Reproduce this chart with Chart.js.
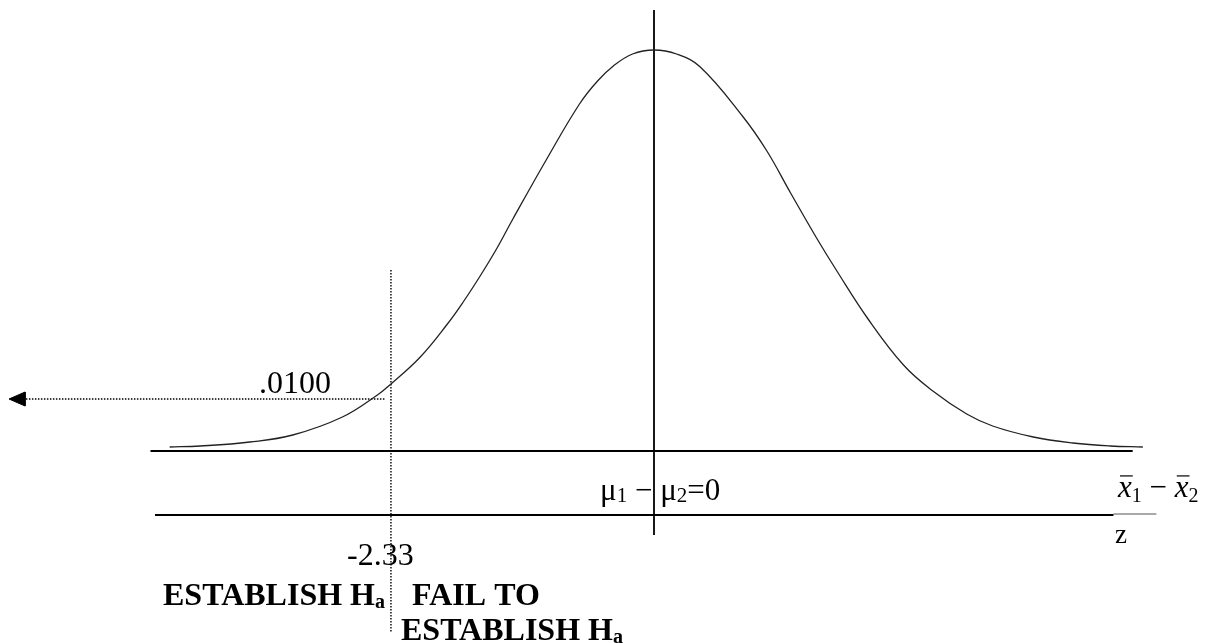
<!DOCTYPE html>
<html lang="en">
<head>
<meta charset="UTF-8">
<title>Lower-tail test for a difference of means</title>
<script src="https://cdn.jsdelivr.net/npm/chart.js@4/dist/chart.umd.min.js"></script>
<style>
    html, body {
        margin: 0;
        padding: 0;
        background: #fff;
    }
    canvas {
        display: block;
    }
</style>
</head>
<body>
<canvas id="testChart" width="1210" height="643"></canvas>

<script>
    // sampling distribution of x̄1 − x̄2, read in z units
    const zPoints = [-4.29, -4.02, -3.58, -3.20, -2.76, -2.45, -2.34, -2.07, -1.83, -1.69,
                     -1.54, -1.39, -1.25, -0.95, -0.66, -0.50, -0.36, -0.19, 0,
                     0.20, 0.41, 0.79, 1.00, 1.21, 1.44, 1.62, 1.89, 2.21, 2.47,
                     2.77, 3.00, 3.36, 3.71, 4.04, 4.33];
    const density = [0.004, 0.005, 0.009, 0.016, 0.034, 0.056, 0.066, 0.094, 0.127, 0.149,
                     0.175, 0.203, 0.232, 0.292, 0.347, 0.370, 0.385, 0.397, 0.401,
                     0.397, 0.384, 0.334, 0.300, 0.258, 0.213, 0.180, 0.133, 0.086, 0.060,
                     0.037, 0.025, 0.014, 0.008, 0.005, 0.004];

    // the two horizontal axes: x̄1 − x̄2 on top, z below
    const meanAxisZ = [-4.46, 4.24];
    const zAxisZ = [-4.42, 4.07];
    const zAxisTailZ = [4.07, 4.45];
    const zAxisLevel = -0.064;

    // centre line at μ1 − μ2 = 0
    const centreZ = 0;
    const centreSpan = [0.441, -0.084];

    // critical value and its tail area
    const criticalZ = -2.33;
    const criticalSpan = [0.181, -0.182];
    const tailArea = '.0100';
    const arrowLevel = 0.052;
    const arrowZ = [-5.59, -2.38];
    const arrowHeadZ = [-5.713, -5.571, -5.571, -5.713];
    const arrowHeadV = [0.052, 0.059, 0.045, 0.052];

    const font = '"Liberation Serif", "Times New Roman", serif';

    const pts = (xs, ys) => xs.map((x, i) => ({ x: x, y: Array.isArray(ys) ? ys[i] : ys }));

    const labels = [
        { z: -3.499, v: 0.058, runs: [{ t: tailArea }] },
        { z: -2.719, v: -0.114, runs: [{ t: String(criticalZ) }] },
        { z: -4.349, v: -0.154, runs: [{ t: 'ESTABLISH H', bold: true }, { t: 'a', bold: true, size: 20, dy: 3 }] },
        { z: -2.143, v: -0.154, runs: [{ t: 'FAIL TO', bold: true }] },
        { z: -2.241, v: -0.189, runs: [{ t: 'ESTABLISH H', bold: true }, { t: 'a', bold: true, size: 20, dy: 3 }] },
        { z: -0.478, v: -0.049, runs: [
            { t: 'μ', size: 31 }, { t: '1', size: 21, dy: 2 }, { t: ' − ', size: 31 },
            { t: 'μ', size: 31 }, { t: '2', size: 21, dy: 2 }, { t: '=0', size: 31 }
        ] },
        { z: 4.110, v: -0.046, runs: [
            { t: 'x', size: 31, italic: true, bar: true }, { t: '1', size: 20, dy: 5 },
            { t: ' − ', size: 31 },
            { t: 'x', size: 31, italic: true, bar: true }, { t: '2', size: 20, dy: 5 }
        ] },
        { z: 4.083, v: -0.092, runs: [{ t: 'z', size: 27 }] }
    ];

    // text drawn at data coordinates, run by run (for subscripts and bars)
    const textPlugin = {
        id: 'diagramText',
        afterDatasetsDraw(chart) {
            const ctx = chart.ctx;
            const xs = chart.scales.x, ys = chart.scales.y;
            ctx.save();
            ctx.fillStyle = '#000';
            ctx.strokeStyle = '#000';
            ctx.textBaseline = 'alphabetic';
            labels.forEach(l => {
                let cx = xs.getPixelForValue(l.z);
                const by = ys.getPixelForValue(l.v);
                l.runs.forEach(r => {
                    const size = r.size || 32;
                    ctx.font = (r.italic ? 'italic ' : '') + (r.bold ? 'bold ' : '') + size + 'px ' + font;
                    ctx.fillText(r.t, cx, by + (r.dy || 0));
                    const w = ctx.measureText(r.t).width;
                    if (r.bar) {
                        ctx.lineWidth = 1.2;
                        ctx.beginPath();
                        ctx.moveTo(cx + 2, by - size * 0.68);
                        ctx.lineTo(cx + w + 1, by - size * 0.68);
                        ctx.stroke();
                    }
                    cx += w;
                });
            });
            ctx.restore();
        }
    };

    const solid = (data, width, color) => ({
        data: data,
        borderColor: color || '#000',
        borderWidth: width,
        pointRadius: 0,
        fill: false
    });
    const dotted = data => ({
        data: data,
        borderColor: '#000',
        borderWidth: 1.4,
        borderDash: [1.5, 1.5],
        pointRadius: 0,
        fill: false
    });

    new Chart(document.getElementById('testChart'), {
        type: 'line',
        data: {
            datasets: [
                Object.assign(solid(pts(zPoints, density), 1.3, '#222'), { tension: 0.4 }),
                solid(pts(meanAxisZ, 0), 2.2),
                solid(pts(zAxisZ, zAxisLevel), 2.2),
                solid(pts(zAxisTailZ, zAxisLevel + 0.001), 1, '#555'),
                solid(pts([centreZ, centreZ], centreSpan), 1.8),
                dotted(pts([criticalZ, criticalZ], criticalSpan)),
                dotted(pts(arrowZ, arrowLevel)),
                {
                    data: pts(arrowHeadZ, arrowHeadV),
                    borderColor: '#000',
                    backgroundColor: '#000',
                    borderWidth: 1,
                    pointRadius: 0,
                    fill: 'shape'
                }
            ]
        },
        options: {
            responsive: false,
            animation: false,
            events: [],
            layout: { padding: 0 },
            plugins: {
                legend: { display: false },
                tooltip: { enabled: false }
            },
            scales: {
                x: { type: 'linear', min: -5.793, max: 4.925, display: false },
                y: { type: 'linear', min: -0.192, max: 0.451, display: false }
            }
        },
        plugins: [textPlugin]
    });
</script>
</body>
</html>
